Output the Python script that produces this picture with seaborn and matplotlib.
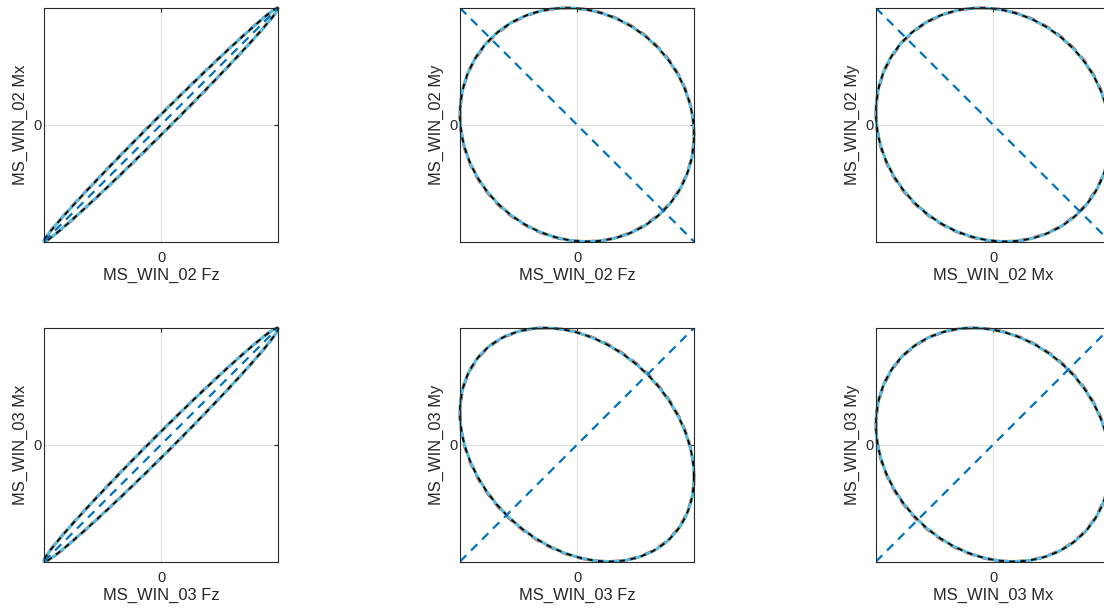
import numpy as np
import pandas as pd
import matplotlib
matplotlib.use("Agg")
import matplotlib.pyplot as plt
import seaborn as sns

# Channel pairs shown in each panel (row-major), with the phase lag (degrees)
# between the two channels of each pair for every load case.
x_labels = ["MS_WIN_02 Fz", "MS_WIN_02 Fz", "MS_WIN_02 Mx",
            "MS_WIN_03 Fz", "MS_WIN_03 Fz", "MS_WIN_03 Mx"]
y_labels = ["MS_WIN_02 Mx", "MS_WIN_02 My", "MS_WIN_02 My",
            "MS_WIN_03 Mx", "MS_WIN_03 My", "MS_WIN_03 My"]
lag_case_black = [5.0, 95.0, 96.0, 6.5, 106.0, 100.0]
lag_case_orange = [5.2, 94.5, 95.5, 6.6, 105.5, 99.5]
lag_case_yellow = [4.9, 95.3, 96.3, 6.4, 106.3, 100.3]
lag_case_cyan = [5.1, 95.0, 96.0, 6.5, 106.0, 100.0]
# Reference trend direction per panel (+1 rising, -1 falling)
trend_sign = [1, -1, -1, 1, 1, 1]

case_colors = {"yellow": "#EDB120", "orange": "#D95319",
               "cyan": "#4DBEEE", "black": "#000000"}
ref_color = "#0072BD"
text_color = "#262626"

sns.set_theme(style="white")
plt.rcParams["font.family"] = ["Liberation Sans", "DejaVu Sans"]

fig = plt.figure(figsize=(11.04, 6.11), dpi=100)
W, H = 1104.0, 611.0
col_left = [44, 460, 876]
row_top = [8, 328]
ax_w, ax_h = 234, 233.5

phase = np.linspace(0, 2 * np.pi, 721)


def orbit(lag_deg):
    lag = np.deg2rad(lag_deg)
    return np.cos(phase), np.cos(phase - lag)


for i in range(6):
    r, c = divmod(i, 3)
    ax = fig.add_axes([col_left[c] / W, 1 - (row_top[r] + ax_h) / H,
                       ax_w / W, ax_h / H])

    layers = [("yellow", lag_case_yellow[i], (0, (3, 2.5)), 2.2),
              ("orange", lag_case_orange[i], (2.5, (3, 2.5)), 2.2),
              ("cyan", lag_case_cyan[i], "-", 2.0),
              ("black", lag_case_black[i], (0, (3, 3)), 1.3)]
    for name, lag, ls, lw in layers:
        xs, ys = orbit(lag)
        df = pd.DataFrame({"x": xs, "y": ys})
        sns.lineplot(data=df, x="x", y="y", sort=False, estimator=None,
                     color=case_colors[name], linestyle=ls, linewidth=lw,
                     ax=ax, clip_on=False)

    ref = pd.DataFrame({"x": [-1.0, 1.0],
                        "y": [-trend_sign[i] * 1.0, trend_sign[i] * 1.0]})
    sns.lineplot(data=ref, x="x", y="y", sort=False, estimator=None,
                 color=ref_color, linestyle=(0, (4, 3)), linewidth=1.6, ax=ax)

    ax.set_xlim(-1, 1)
    ax.set_ylim(-1, 1)
    ax.set_xticks([0])
    ax.set_yticks([0])
    ax.set_xticklabels(["0"])
    ax.set_yticklabels(["0"])
    ax.grid(True, color="#E0E0E0", linewidth=0.9)
    ax.set_axisbelow(True)
    ax.tick_params(direction="in", length=3, width=0.8, colors=text_color,
                   labelsize=10.5, top=True, right=True)
    ax.tick_params(axis="x", pad=7)
    ax.tick_params(axis="y", pad=1.5)
    for sp in ax.spines.values():
        sp.set_color("#262626")
        sp.set_linewidth(0.8)
        sp.set_visible(True)
    ax.set_xlabel(x_labels[i], fontsize=11.9, color=text_color, labelpad=2)
    ax.set_ylabel(y_labels[i], fontsize=11.9, color=text_color, labelpad=4)

fig.savefig("out.png", dpi=100, facecolor="white")
